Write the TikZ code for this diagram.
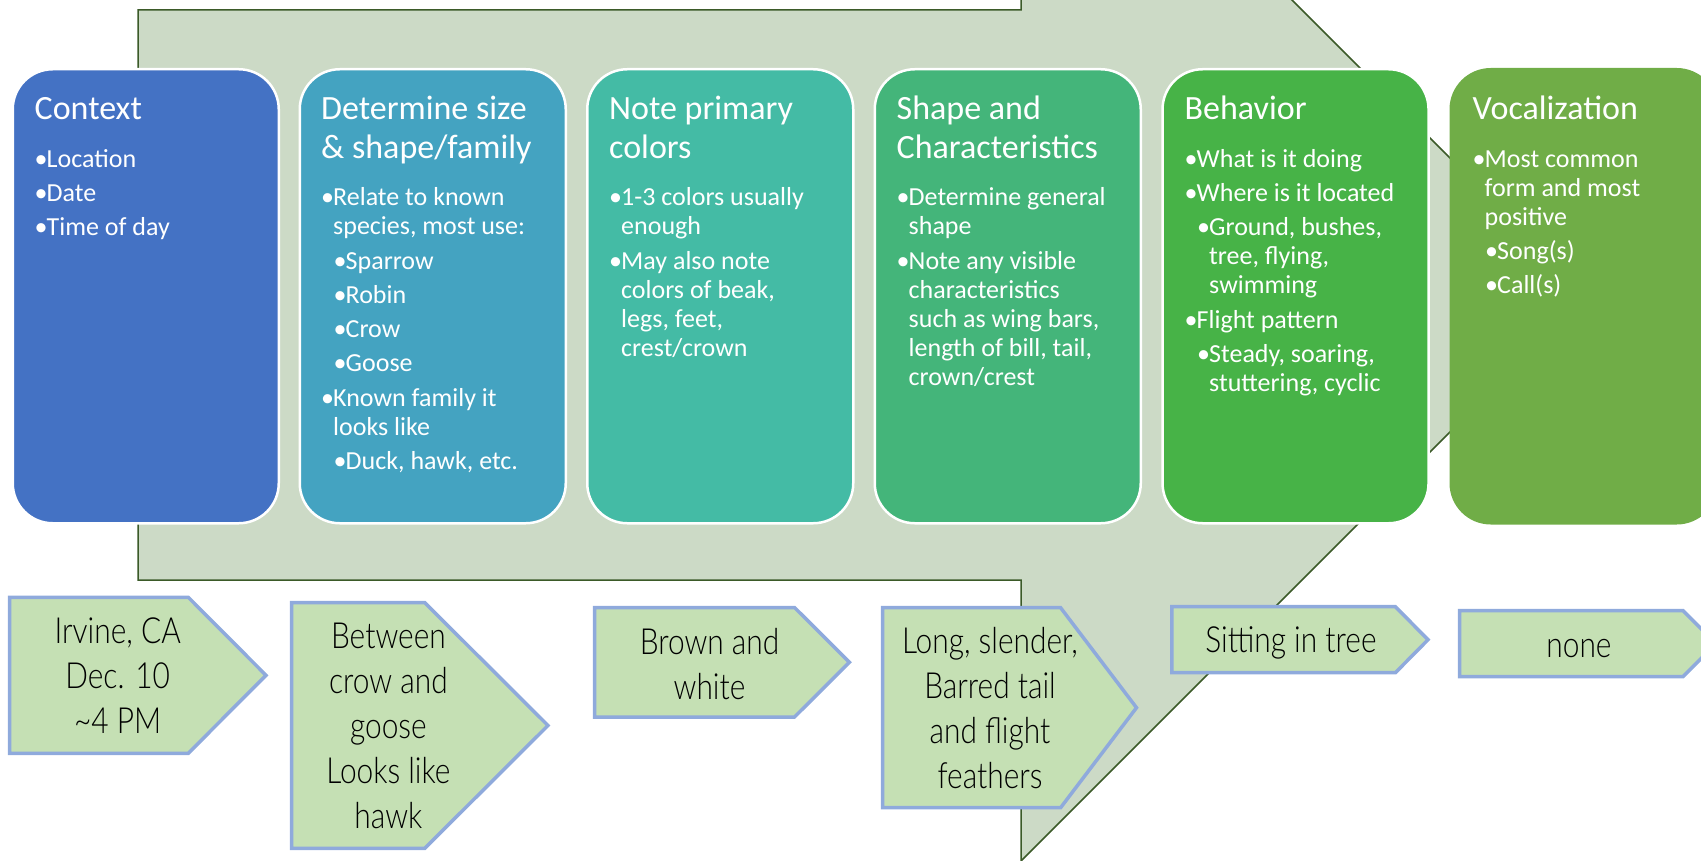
\documentclass[tikz,border=0pt]{standalone}
\usepackage{fontspec}
\setmainfont{Carlito}
\newfontfamily\handfont[FakeStretch=0.83]{Lato Light}
\definecolor{arrowfill}{HTML}{CCDAC6}
\definecolor{arrowline}{HTML}{3B5A28}
\definecolor{cA}{HTML}{4472C4}
\definecolor{cB}{HTML}{44A3C1}
\definecolor{cC}{HTML}{44BBA5}
\definecolor{cD}{HTML}{44B57A}
\definecolor{cE}{HTML}{47B347}
\definecolor{cF}{HTML}{70AD47}
\definecolor{tagfill}{HTML}{C5E0B4}
\definecolor{tagline}{HTML}{8FAADC}
\newcommand\nl{\newline}
\newcommand\bul[1]{\par\hangindent=12pt\hangafter=1\noindent\makebox[12pt][l]{•}#1}
\newcommand\sbul[1]{\par\hangindent=24.5pt\hangafter=1\noindent\hspace*{12.5pt}\makebox[12pt][l]{•}#1}
\newcommand\stagetext[2]{\begin{minipage}[t]{300pt}\raggedright\fontsize{34}{38.5}\selectfont #1\par\vspace{13pt}\fontsize{26}{29}\selectfont\setlength{\parskip}{5.3pt}#2\end{minipage}}
\newcommand\tagtext[1]{\begin{minipage}[t]{240pt}\centering\handfont\fontsize{36}{45}\selectfont #1\end{minipage}}
\tikzset{
  stagebox/.style={draw=white, line width=2.5pt, rounded corners=40pt, minimum width=266pt, minimum height=454pt, anchor=north west, inner sep=0pt},
  stagetxt/.style={inner sep=0pt, text=white, anchor=base west},
  tag/.style={draw=tagline, fill=tagfill, line width=3.5pt, line join=miter},
  tagtxt/.style={inner sep=0pt, text=black, anchor=base},
  bigarrow/.style={draw=arrowline, fill=arrowfill, line width=1.5pt}
}
\begin{document}
\begin{tikzpicture}[x=1pt,y=-1pt]
\useasboundingbox (0,0) rectangle (1701,861);
\clip (0,0) rectangle (1701,861);
% big background arrow
\draw[bigarrow] (138,10) -- (1021,10) -- (1021,-271) -- (1587,295) -- (1021,861) -- (1021,580) -- (138,580) -- cycle;
% stage boxes
\node[stagebox, fill=cA] (ctx) at (11.5,68) {};
\node[stagebox, fill=cB] (size) at (298.5,68) {};
\node[stagebox, fill=cC] (colr) at (586,68) {};
\node[stagebox, fill=cD] (shape) at (873.5,68) {};
\node[stagebox, fill=cE] (behav) at (1161.3,68) {};
\node[stagebox, fill=cF, draw=cF] (voc) at (1449.5,68) {};
% stage texts
\node[stagetxt] (ctxT) at (34.5,120) {\stagetext{Context}{\bul{Location}\bul{Date}\bul{Time of day}}};
\node[stagetxt] (sizeT) at (321,120) {\stagetext{Determine size\\\& shape/family}{\bul{Relate to known\nl species, most use:}\sbul{Sparrow}\sbul{Robin}\sbul{Crow}\sbul{Goose}\bul{Known family it\nl looks like}\sbul{Duck, hawk, etc.}}};
\node[stagetxt] (colrT) at (609,120) {\stagetext{Note primary\\colors}{\bul{1-3 colors usually\nl enough}\bul{May also note\nl colors of beak,\nl legs, feet,\nl crest/crown}}};
\node[stagetxt] (shapeT) at (896.5,120) {\stagetext{Shape and\\Characteristics}{\bul{Determine general\nl shape}\bul{Note any visible\nl characteristics\nl such as wing bars,\nl length of bill, tail,\nl crown/crest}}};
\node[stagetxt] (behavT) at (1184.5,120) {\stagetext{Behavior}{\bul{What is it doing}\bul{Where is it located}\sbul{Ground, bushes,\nl tree, flying,\nl swimming}\bul{Flight pattern}\sbul{Steady, soaring,\nl stuttering, cyclic}}};
\node[stagetxt] (vocT) at (1472.5,120) {\stagetext{Vocalization}{\bul{Most common\nl form and most\nl positive}\sbul{Song(s)}\sbul{Call(s)}}};
% tags
\draw[tag] (9.6,597.3) -- (188.3,597.3) -- (266,675.3) -- (188.3,753.3) -- (9.6,753.3) -- cycle;
\draw[tag] (291.6,602.7) -- (424.8,602.7) -- (548,725.5) -- (424.8,848.3) -- (291.6,848.3) -- cycle;
\draw[tag] (594.5,607.5) -- (794.5,607.5) -- (849.4,662.2) -- (794.5,717) -- (594.5,717) -- cycle;
\draw[tag] (882.6,607.7) -- (1060.6,607.7) -- (1136.5,707.7) -- (1060.6,807.7) -- (882.6,807.7) -- cycle;
\draw[tag] (1171.8,606.7) -- (1395.4,606.7) -- (1428,639.7) -- (1395.4,672.7) -- (1171.8,672.7) -- cycle;
\draw[tag] (1459.5,610.7) -- (1683,610.7) -- (1716,643.7) -- (1683,676.7) -- (1459.5,676.7) -- cycle;
% tag texts
\node[tagtxt] (t1) at (117.7,643) {\tagtext{Irvine, CA\\Dec. 10\\\textasciitilde 4 PM}};
\node[tagtxt] (t2) at (388.4,648) {\tagtext{Between\\crow and\\goose\\Looks like\\hawk}};
\node[tagtxt] (t3) at (709.5,654) {\tagtext{Brown and\\white}};
\node[tagtxt] (t4) at (990,653) {\tagtext{Long, slender,\\Barred tail\\and flight\\feathers}};
\node[tagtxt] (t5) at (1291,652) {\tagtext{Sitting in tree}};
\node[tagtxt] (t6) at (1579,657) {\tagtext{none}};
\end{tikzpicture}
\end{document}
